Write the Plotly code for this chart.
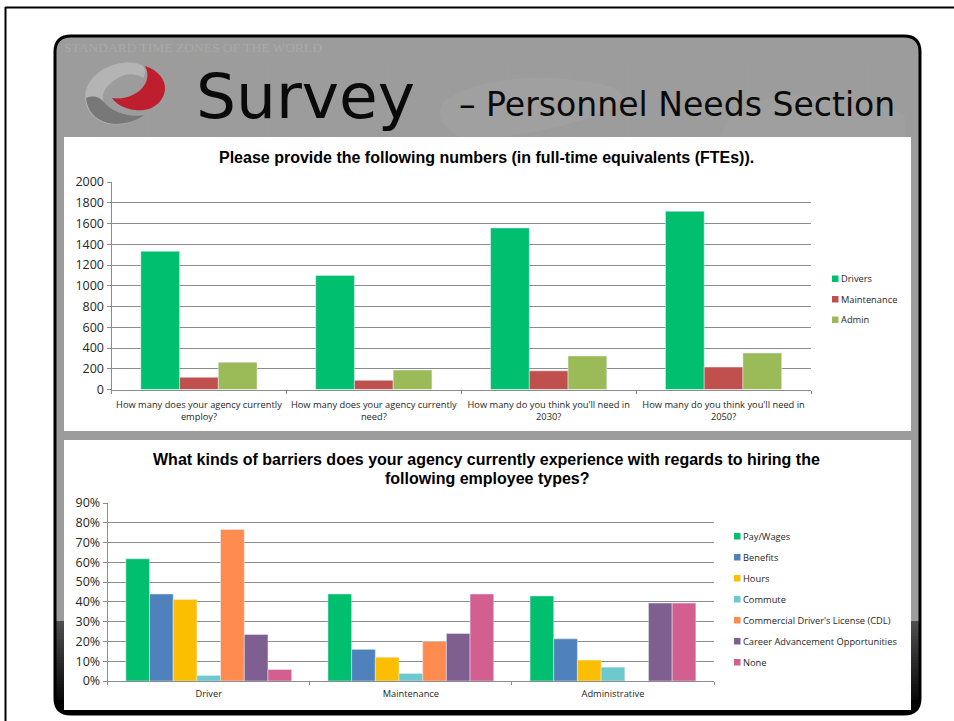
import plotly.graph_objects as go

W, H = 954, 721

# ---- data ----
fte_categories = ["How many does your agency currently<br>employ?",
                  "How many does your agency currently<br>need?",
                  "How many do you think you'll need in<br>2030?",
                  "How many do you think you'll need in<br>2050?"]
drivers = [1332, 1100, 1557, 1718]
maintenance = [117, 88, 180, 216]
admin = [262, 188, 323, 352]

barrier_categories = ["Driver", "Maintenance", "Administrative"]
pay_wages = [61.8, 44, 43]
benefits = [44, 16, 21.3]
hours = [41.2, 12, 10.6]
commute = [2.8, 3.8, 7]
cdl = [76.6, 20, None]
career = [23.5, 24, 39.4]
none_barrier = [5.8, 44, 39.4]

fte_series = [("Drivers", drivers, "#00BF6F"),
              ("Maintenance", maintenance, "#C0504D"),
              ("Admin", admin, "#9BBB59")]
barrier_series = [("Pay/Wages", pay_wages, "#00BF6F"),
                  ("Benefits", benefits, "#4F81BD"),
                  ("Hours", hours, "#FBBE00"),
                  ("Commute", commute, "#6CC9CE"),
                  ("Commercial Driver's License (CDL)", cdl, "#FF8B4F"),
                  ("Career Advancement Opportunities", career, "#7F5F90"),
                  ("None", none_barrier, "#D35F91")]

CHART_FONT = "Open Sans"
TEXT = "#262626"


def px(x):
    return x / W


def py(y):
    return 1 - y / H


def P(*pts):
    out = []
    for p in pts:
        if isinstance(p, str):
            out.append(p)
        else:
            out.append(f"{px(p[0]):.5f},{py(p[1]):.5f}")
    return " ".join(out)


shapes = []


def rect(x0, y0, x1, y1, color):
    shapes.append(dict(type="rect", xref="paper", yref="paper", x0=px(x0), x1=px(x1),
                       y0=py(y1), y1=py(y0), fillcolor=color, line_width=0, layer="below"))


def path(d, fill=None, line=None, lw=0):
    s = dict(type="path", xref="paper", yref="paper", path=d, layer="below")
    if fill:
        s["fillcolor"] = fill
    if line:
        s["line"] = dict(color=line, width=lw)
    else:
        s["line"] = dict(width=0)
    shapes.append(s)


def hline(x0, x1, y, color, w=1):
    shapes.append(dict(type="line", xref="paper", yref="paper", x0=px(x0), x1=px(x1),
                       y0=py(y), y1=py(y), line=dict(color=color, width=w), layer="below"))


def vline(x, y0, y1, color, w=1):
    shapes.append(dict(type="line", xref="paper", yref="paper", x0=px(x), x1=px(x),
                       y0=py(y0), y1=py(y1), line=dict(color=color, width=w), layer="below"))


# slide border
hline(5, 954, 7.5, "#000000", 2)
vline(5.5, 7, 721, "#000000", 2)

# rounded panel
L, R, T, B, c = 55, 920, 36, 714, 16
panel = P("M", (L + c, T), "L", (R - c, T), "Q", (R, T), (R, T + c), "L", (R, B - c), "Q", (R, B), (R - c, B),
          "L", (L + c, B), "Q", (L, B), (L, B - c), "L", (L, T + c), "Q", (L, T), (L + c, T), "Z")
path(panel, fill="#9C9C9C")

# faint world-map texture
for i in range(14):
    vline(88 + i * 60, 62, 137, "#A1A1A1", 0.6)
hline(L + 2, R - 2, 56, "#A1A1A1", 0.6)
path(P("M", (445, 100), "Q", (500, 68), (590, 82), "Q", (640, 90), (610, 110), "Q", (560, 130), (500, 137),
       "L", (460, 137), "Q", (430, 120), (445, 100), "Z"), fill="#A0A0A0")
path(P("M", (720, 137), "Q", (730, 100), (790, 95), "Q", (870, 95), (905, 115), "L", (905, 137), "Z"), fill="#9F9F9F")

# dark lower band
steps = 30
for i in range(steps):
    y0 = 621 + i * 3
    g = int(78 * (1 - i / (steps - 1)))
    rect(L, y0, R, y0 + 3.2, f"rgb({g},{g},{g})")
path(P("M", (L, 700), "L", (R, 700), "L", (R, B - c), "Q", (R, B), (R - c, B), "L", (L + c, B), "Q", (L, B), (L, B - c), "Z"),
     fill="#000000")
path(P("M", (L - 1, 700), "L", (L, B - c), "Q", (L, B), (L + c, B), "L", (L - 1, B + 1), "Z"), fill="#FFFFFF")
path(P("M", (R + 1, 700), "L", (R, B - c), "Q", (R, B), (R - c, B), "L", (R + 1, B + 1), "Z"), fill="#FFFFFF")
path(panel, line="#000000", lw=3)

# white chart cards
rect(64, 137, 911, 431, "#FFFFFF")
rect(64, 440, 911, 710, "#FFFFFF")

# logo
path(P("M", (142, 65), "C", (125, 58), (98, 66), (88, 85), "C", (80, 102), (90, 118), (105, 123),
       "C", (120, 127), (135, 122), (144, 115), "C", (130, 118), (112, 112), (104, 102),
       "C", (100, 92), (108, 84), (118, 78), "C", (126, 73), (136, 73), (143, 78), "C", (146, 74), (146, 69), (142, 65), "Z"),
     fill="#B4B4B4")
path(P("M", (86, 98), "C", (87, 110), (95, 120), (108, 123), "C", (120, 126), (135, 122), (144, 115),
       "C", (130, 118), (112, 112), (104, 102), "C", (100, 97), (93, 95), (86, 98), "Z"), fill="#787878")
path(P("M", (145, 66), "C", (158, 70), (166, 80), (165, 90), "C", (163, 104), (150, 112), (135, 110),
       "C", (125, 109), (116, 104), (112, 98), "C", (125, 100), (138, 94), (143, 87), "C", (148, 81), (149, 73), (145, 66), "Z"),
     fill="#BE1E2D")

annotations = []


def label(x, y, text, size, color="#000000", font=CHART_FONT, xanchor="left", bold=False, align="left"):
    annotations.append(dict(xref="paper", yref="paper", x=px(x), y=py(y), text=f"<b>{text}</b>" if bold else text,
                            showarrow=False, xanchor=xanchor, yanchor="middle", align=align,
                            font=dict(family=font, size=size, color=color)))


label(62, 48, "STANDARD TIME ZONES OF THE WORLD", 13.5, "#A9A9A9", "Liberation Serif")
label(194, 97, "Survey", 63, "#0A0A0A", "DejaVu Sans")
label(457, 105, "– Personnel Needs Section", 33.1, "#0A0A0A", "DejaVu Sans")
label(486, 157, "Please provide the following numbers (in full-time equivalents (FTEs)).", 16, "#000000",
      "Liberation Sans", xanchor="center", bold=True)
label(487, 459, "What kinds of barriers does your agency currently experience with regards to hiring the", 16, "#000000",
      "Liberation Sans", xanchor="center", bold=True)
label(487, 478, "following employee types?", 16, "#000000", "Liberation Sans", xanchor="center", bold=True)

FTE_BAR_WIDTH = 0.2215
BARRIER_BAR_WIDTH = 0.1172

fig = go.Figure()
for i, (name, vals, col) in enumerate(fte_series):
    fig.add_trace(go.Bar(x=fte_categories, y=vals, name=name, marker_color=col, xaxis="x", yaxis="y",
                         showlegend=False, width=FTE_BAR_WIDTH, offset=(i - 1.5) * FTE_BAR_WIDTH))
for i, (name, vals, col) in enumerate(barrier_series):
    fig.add_trace(go.Bar(x=barrier_categories, y=vals, name=name, marker_color=col, xaxis="x2", yaxis="y2",
                         showlegend=False, width=BARRIER_BAR_WIDTH, offset=(i - 3.5) * BARRIER_BAR_WIDTH))


def legend(items, x, y0, step):
    for i, (name, _, col) in enumerate(items):
        yc = y0 + i * step
        rect(x, yc - 3, x + 6.5, yc + 3.5, col)
        label(x + 7, yc, name, 9.3, TEXT)


legend(fte_series, 832, 278.5, 20.5)
legend(barrier_series, 734, 536, 21)

GRID = "#8C8C8C"
common_x = dict(type="category", showgrid=False, showline=True, linecolor=GRID, linewidth=1, ticks="outside",
                tickson="boundaries", ticklen=3, tickcolor=GRID, tickangle=0,
                tickfont=dict(family=CHART_FONT, size=9.3, color=TEXT))
common_y = dict(showgrid=True, gridcolor=GRID, gridwidth=1, showline=True, linecolor=GRID, linewidth=1, ticks="outside",
                ticklen=4, tickcolor=GRID, zeroline=False, tickfont=dict(family=CHART_FONT, size=12.5, color=TEXT))

fig.update_layout(
    width=W, height=H, autosize=False,
    margin=dict(l=0, r=0, t=0, b=0, pad=0, autoexpand=False),
    paper_bgcolor="#FFFFFF", plot_bgcolor="rgba(0,0,0,0)",
    barmode="overlay",
    shapes=shapes, annotations=annotations,
    showlegend=False,
    xaxis=dict(domain=[px(111.5), px(811)], anchor="y", ticklabelstandoff=6, **common_x),
    yaxis=dict(domain=[py(389.5), py(182)], anchor="x", range=[0, 2000], dtick=200, **common_y),
    xaxis2=dict(domain=[px(107.7), px(714)], anchor="y2", ticklabelstandoff=4, **common_x),
    yaxis2=dict(domain=[py(681), py(503)], anchor="x2", range=[0, 90], dtick=10, ticksuffix="%", **common_y),
)
fig.write_html("out.html", config={"displayModeBar": False},
               post_script="document.body.style.margin='0';document.documentElement.style.overflow='hidden';")
